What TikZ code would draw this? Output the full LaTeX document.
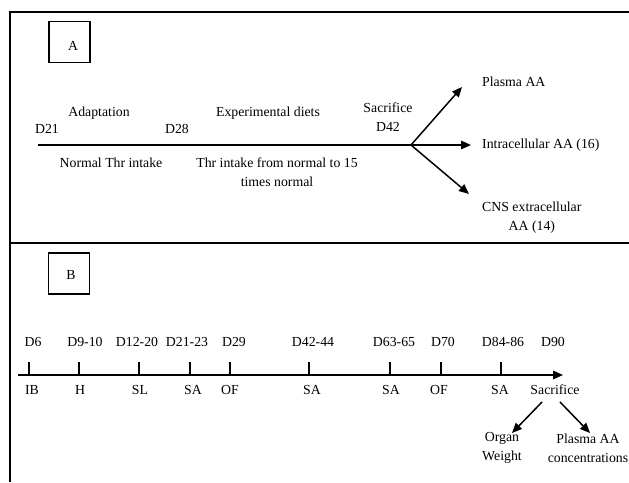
\documentclass[tikz,border=0pt]{standalone}
\usepackage{fontspec}
\setmainfont{Liberation Serif}
\usetikzlibrary{positioning,arrows.meta}

\begin{document}
\begin{tikzpicture}[
	x=1pt, y=-1pt,
	frame line/.style={line width=1.8pt},
	time line/.style={line width=1.5pt},
	pile/.style={line width=1.5pt, -{Triangle[length=10pt,width=8.5pt]}},
	tick/.style={line width=1.6pt},
	panel box/.style={draw, line width=1.5pt, minimum size=41pt, inner sep=0pt},
	every node/.style={color=black, inner sep=0pt, font=\fontsize{13.8}{19}\selectfont}
	]
	\useasboundingbox (0,0) rectangle (629,482);
	% frame
	\draw[frame line] (629,12) -- (10,12) -- (10,482);
	\draw[frame line] (10,243) -- (629,243);
	% panel A
	\node[panel box] (boxA) at (69.5,42) {};
	\node (letterA) at (73,46) {A};
	\coordinate (startA) at (38,145);
	\coordinate (split) at (411,145);
	\node (adapt) at (99,113) {Adaptation};
	\node (expdiet) at (268,113) {Experimental diets};
	\node[align=center] (sacA) at (388,117) {Sacrifice\\D42};
	\node (d21) at (47,129) {D21};
	\node (d28) at (177,129) {D28};
	\node (normal) at (111,163) {Normal Thr intake};
	\node[align=center] (thrup) at (277,172) {Thr intake from normal to 15\\times normal};
	\node[anchor=west] (plasmaA) at (482,82) {Plasma AA};
	\node[anchor=west] (intra) at (482,145) {Intracellular AA (16)};
	\node[anchor=west, align=center] (cns) at (482,218) {CNS extracellular\\AA (14)};
	\coordinate (tipup) at (462,87);
	\coordinate (tipmid) at (471,145);
	\coordinate (tipdown) at (469,194);
	\draw[time line] (startA) -- (split);
	\draw[pile] (split) -- (tipup);
	\draw[pile] (split) -- (tipmid);
	\draw[pile] (split) -- (tipdown);
	% panel B
	\node[panel box] (boxB) at (69,273.5) {};
	\node (letterB) at (71,275) {B};
	\coordinate (startB) at (18,375);
	\coordinate (endB) at (563,375);
	\draw[time line, -{Triangle[length=10pt,width=8.5pt]}] (startB) -- (endB);
	% ticks
	\draw[tick] (29,362) -- (29,375);
	\draw[tick] (79,362) -- (79,375);
	\draw[tick] (139,362) -- (139,375);
	\draw[tick] (190,362) -- (190,375);
	\draw[tick] (230,362) -- (230,375);
	\draw[tick] (309,362) -- (309,375);
	\draw[tick] (390,362) -- (390,375);
	\draw[tick] (441,362) -- (441,375);
	\draw[tick] (501,362) -- (501,375);
	% days
	\node (d6) at (33,342) {D6};
	\node (d9) at (85,342) {D9-10};
	\node (d12) at (137,342) {D12-20};
	\node (d21b) at (187,342) {D21-23};
	\node (d29) at (234,342) {D29};
	\node (d42b) at (313,342) {D42-44};
	\node (d63) at (394,342) {D63-65};
	\node (d70) at (443,342) {D70};
	\node (d84) at (503,342) {D84-86};
	\node (d90) at (553,342) {D90};
	% tests
	\node (ib) at (32,390) {IB};
	\node (h) at (80,390) {H};
	\node (sl) at (140,390) {SL};
	\node (sa1) at (193,390) {SA};
	\node (of1) at (230,390) {OF};
	\node (sa2) at (312,390) {SA};
	\node (sa3) at (391,390) {SA};
	\node (of2) at (439,390) {OF};
	\node (sa4) at (500,390) {SA};
	\node (sacB) at (555,390) {Sacrifice};
	\node[align=center] (organ) at (502,448) {Organ\\Weight};
	\node[align=center] (plasmaB) at (588,448) {Plasma AA\\concentrations};
	\coordinate (sacL) at (542,402);
	\coordinate (sacR) at (560,402);
	\coordinate (tipL) at (512,433);
	\coordinate (tipR) at (590,433);
	\draw[pile] (sacL) -- (tipL);
	\draw[pile] (sacR) -- (tipR);
\end{tikzpicture}
\end{document}
